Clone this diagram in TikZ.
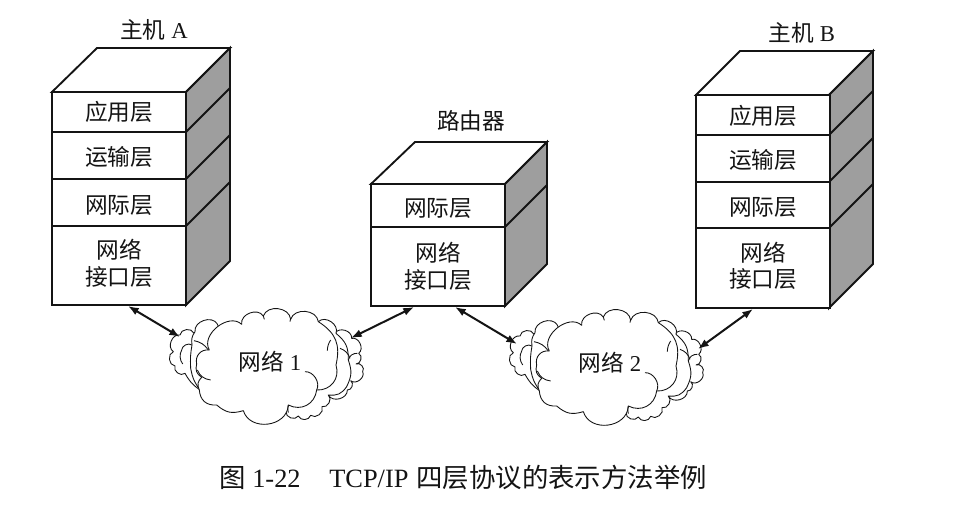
\documentclass[tikz,border=0pt]{standalone}
\usepackage{fontspec}
\usetikzlibrary{arrows.meta}
\setmainfont{Liberation Serif}
\newfontfamily\cjk{Noto Sans CJK SC}
\newcommand\zh[1]{{\cjk #1}}
\newcommand\zs[2]{\raisebox{#1}[\height][\depth]{\zh{#2}}}
\definecolor{shade}{gray}{0.62}
\definecolor{ink}{gray}{0.08}
\tikzset{
  lbl/.style={font=\fontsize{17}{20}\selectfont,text=ink,align=center,inner sep=0pt},
  layerbox/.style={draw=ink,line width=1.4pt,fill=white,minimum width=100.5pt,inner sep=0pt,outer sep=0pt,anchor=north west,align=center,text=ink,font=\fontsize{17}{20}\selectfont},
  topface/.style={draw=ink,line width=1.4pt,fill=white,line join=miter},
  sideface/.style={draw=ink,line width=1.4pt,fill=shade,line join=miter},
  divider/.style={draw=ink,line width=1.4pt},
  link/.style={draw=ink,line width=1.5pt,{Latex[length=8pt,width=6pt]}-{Latex[length=8pt,width=6pt]}},
  puff/.style={draw=ink,line width=0.65pt,fill=white,line join=round,every to/.style={bend left=78,looseness=1.15}},
  crease/.style={draw=ink,line width=0.65pt}
}
\newcommand\cloudshape[3]{%
\begin{scope}[shift={(#1,#2)},x=0.25pt,y=-0.25pt]
  % far back left and right
  \path[puff] (240,300) to[bend left=12] (195,250) to (165,228) to (160,185) to (180,135) to (222,130) -- (300,200) -- cycle;
  \path[puff] (645,130) to (695,145) to (716,190) to (708,222) to (728,245) to (692,272) to (682,300) to (625,315) -- (560,200) -- cycle;
  % middle back
  \path[puff] (240,300) to[bend left=12] (212,235) to[bend left=6] (216,165) to[bend left=20] (225,125) to (292,102) -- (330,200) -- cycle;
  \path[puff] (595,95) to (648,130) to[bend left=25] (685,210) to[bend left=22] (680,290) to[bend left=30] (625,315) to (606,350) to (572,376) to[bend left=70] (535,378) to (498,365) -- (520,200) -- cycle;
  % main body
  \path[puff] (268,180) to[bend left=82,looseness=1.1] (365,103) to (430,78) to (512,88) to (595,95)
     to[bend left=35] (648,225) to[bend left=55] (590,300) to[bend left=55] (505,345)
     to[bend left=80,looseness=1.25] (370,362) to[bend left=28] (290,345) to[bend left=45] (238,300)
     to[bend left=35] (245,262) to[bend left=35] (230,222) to[bend left=55] cycle;
  % inner creases
  \draw[crease] (590,300) to[bend right=60] (555,245);
  \draw[crease] (505,345) to[bend right=15] (505,368);
  \draw[crease] (232,240) to[bend right=30] (272,270);
  \draw[crease] (216,165) to[bend right=60] (185,180);
  \draw[crease] (185,180) to[bend right=30] (188,222);
  \draw[crease] (222,152) to[bend left=22] (265,180);
  \draw[crease] (622,182) to[bend left=15] (632,150);
  \draw[crease] (660,175) to[bend left=25] (690,205);
  \draw[crease] (685,210) to[bend left=40] (712,190);
  \draw[crease] (510,95) to[bend right=15] (512,85);
  \draw[crease] (430,78) to[bend right=10] (433,88);
  \node[lbl] at (450,214) {\zh{网络} #3};
\end{scope}}
\begin{document}
\begin{tikzpicture}[x=0.75pt,y=-0.75pt]
\useasboundingbox (0,0) rectangle (961,509);
\fill[white] (0,0) rectangle (961,509);

% Host A
\draw[topface] (52,92) -- (97,48) -- (230,48) -- (186,92) -- cycle;
\draw[sideface] (186,92) -- (230,48) -- (230,261) -- (186,305) -- cycle;
\draw[divider] (186,132) -- (230,88) (186,179) -- (230,135) (186,226) -- (230,182);
\node[layerbox,minimum height=30pt] (a1) at (52,92) {\zs{0pt}{应用层}};
\node[layerbox,minimum height=35.25pt] (a2) at (52,132) {\zs{-0.8pt}{运输层}};
\node[layerbox,minimum height=35.25pt] (a3) at (52,179) {\zs{-2.2pt}{网际层}};
\node[layerbox,minimum height=59.25pt] (a4) at (52,226) {\zs{1.5pt}{网络}\\\zs{1.5pt}{接口层}};
\node[lbl] (atitle) at (154,30) {\zh{主机} A};

% Router
\draw[topface] (371,184) -- (415,142) -- (547,142) -- (505,184) -- cycle;
\draw[sideface] (505,184) -- (547,142) -- (547,264) -- (505,306) -- cycle;
\draw[divider] (505,227) -- (547,185);
\node[layerbox,minimum height=32.25pt] (r1) at (371,184) {\zs{-2.2pt}{网际层}};
\node[layerbox,minimum height=59.25pt] (r2) at (371,227) {\zs{0pt}{网络}\\\zs{0pt}{接口层}};
\node[lbl] (rtitle) at (471,121) {\zh{路由器}};

% Host B
\draw[topface] (696,95) -- (740,51) -- (873,51) -- (829,95) -- cycle;
\draw[sideface] (829,95) -- (873,51) -- (873,264) -- (829,308) -- cycle;
\draw[divider] (829,135) -- (873,91) (829,182) -- (873,138) (829,228) -- (873,184);
\node[layerbox,minimum height=30pt] (b1) at (696,95) {\zs{-0.8pt}{应用层}};
\node[layerbox,minimum height=35.25pt] (b2) at (696,135) {\zs{-0.8pt}{运输层}};
\node[layerbox,minimum height=34.5pt] (b3) at (696,182) {\zs{-2.2pt}{网际层}};
\node[layerbox,minimum height=60pt] (b4) at (696,228) {\zs{1.5pt}{网络}\\\zs{1.5pt}{接口层}};
\node[lbl] (btitle) at (802,33) {\zh{主机} B};

% Clouds
\cloudshape{120}{290}{1}
\cloudshape{460}{291}{2}

% Connector ends
\coordinate (a4p) at (128,306);
\coordinate (c1l) at (180,337);
\coordinate (r2l) at (414,307);
\coordinate (c1r) at (351,338);
\coordinate (r2r) at (455,307);
\coordinate (c2l) at (517,344);
\coordinate (b4p) at (753,309);
\coordinate (c2r) at (698,349);
\draw[link] (a4p) -- (c1l);
\draw[link] (r2l) -- (c1r);
\draw[link] (r2r) -- (c2l);
\draw[link] (b4p) -- (c2r);

% Caption
\node[lbl,anchor=west,font=\fontsize{19.8}{24}\selectfont] (cap) at (219,478) {\zh{图} 1-22\hspace{21.5pt}TCP/IP\hspace{6pt}\zh{四层协议的表示方法举例}};
\end{tikzpicture}
\end{document}
